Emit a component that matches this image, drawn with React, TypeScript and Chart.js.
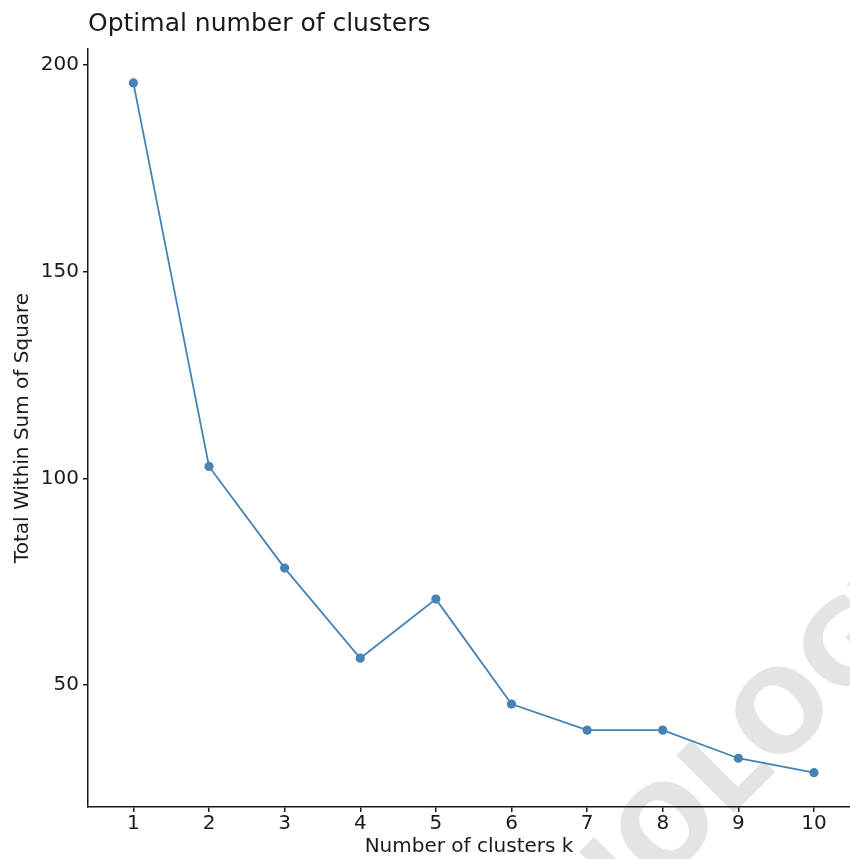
import React, { useEffect, useRef } from "react";
import { Chart, registerables } from "chart.js";

Chart.register(...registerables);

const kValues = [1, 2, 3, 4, 5, 6, 7, 8, 9, 10];
const wssValues = [195.7, 102.9, 78.3, 56.5, 70.8, 45.4, 39.1, 39.1, 32.3, 28.8];
const xTickValues = [1, 2, 3, 4, 5, 6, 7, 8, 9, 10];
const yTickValues = [50, 100, 150, 200];

const titleText = "Optimal number of clusters";
const xTitle = "Number of clusters k";
const yTitle = "Total Within Sum of Square";
const watermarkText = "BIOLOGY";

const FONT = "'DejaVu Sans', sans-serif";
const INK = "#1a1a1a";
const LINE = "#4682B4";

const watermarkPlugin = {
  id: "watermark",
  beforeDraw(chart: any) {
    const ctx = chart.ctx as CanvasRenderingContext2D;
    ctx.save();
    const size = 112;
    ctx.font = `bold ${size}px ${FONT}`;
    ctx.fillStyle = "#e4e4e4";
    ctx.textBaseline = "middle";
    ctx.textAlign = "left";
    const prefix = ctx.measureText("BI").width;
    const o = ctx.measureText("O").width;
    ctx.translate(671, 832);
    ctx.rotate(-Math.PI / 4);
    ctx.fillText(watermarkText, -(prefix + o / 2), 2);
    ctx.restore();
  },
};

export default function App() {
  const canvasRef = useRef<HTMLCanvasElement | null>(null);

  useEffect(() => {
    document.body.style.margin = "0";
    const canvas = canvasRef.current;
    if (!canvas) return;
    const chart = new Chart(canvas, {
      type: "line",
      data: {
        datasets: [
          {
            data: kValues.map((k, i) => ({ x: k, y: wssValues[i] })),
            borderColor: LINE,
            backgroundColor: LINE,
            borderWidth: 1.8,
            pointRadius: 4.6,
            pointBorderWidth: 0,
            pointBackgroundColor: LINE,
            tension: 0,
            fill: false,
            clip: false,
          },
        ],
      },
      plugins: [watermarkPlugin],
      options: {
        animation: false,
        responsive: false,
        devicePixelRatio: 1,
        layout: { padding: 0, autoPadding: false },
        plugins: {
          legend: { display: false },
          tooltip: { enabled: false },
          title: {
            display: true,
            text: titleText,
            align: "start",
            fullSize: false,
            color: INK,
            font: { family: FONT, size: 25, weight: "normal", lineHeight: 1.2 },
            padding: { top: 9.6, bottom: 9.4 },
          },
        },
        scales: {
          x: {
            type: "linear",
            min: 0.4,
            max: 10.476,
            afterBuildTicks: (axis: any) => {
              axis.ticks = xTickValues.map((v) => ({ value: v }));
            },
            afterFit: (scale: any) => {
              scale.height = 52;
              scale.paddingLeft = 0;
              scale.paddingRight = 0;
            },
            ticks: {
              color: INK,
              font: { family: FONT, size: 20, lineHeight: 1 },
              padding: 2,
              maxRotation: 0,
              autoSkip: false,
              callback: (v: any) => String(v),
            },
            grid: {
              drawOnChartArea: false,
              drawTicks: true,
              tickLength: 5,
              color: INK,
              lineWidth: 1.5,
            },
            border: { display: true, color: INK, width: 1.5 },
            title: {
              display: true,
              text: xTitle,
              color: INK,
              font: { family: FONT, size: 20, lineHeight: 1.2 },
              padding: { top: 0, bottom: 0.5 },
            },
          },
          y: {
            type: "linear",
            min: 20.5,
            max: 203.9,
            afterBuildTicks: (axis: any) => {
              axis.ticks = yTickValues.map((v) => ({ value: v }));
            },
            afterFit: (scale: any) => {
              scale.width = 88;
              scale.paddingTop = 0;
              scale.paddingBottom = 0;
            },
            ticks: {
              color: INK,
              font: { family: FONT, size: 20, lineHeight: 1 },
              padding: 4,
              autoSkip: false,
              callback: (v: any) => String(v),
            },
            grid: {
              drawOnChartArea: false,
              drawTicks: true,
              tickLength: 5,
              color: INK,
              lineWidth: 1.5,
            },
            border: { display: true, color: INK, width: 1.5 },
            title: {
              display: true,
              text: yTitle,
              color: INK,
              font: { family: FONT, size: 20, lineHeight: 1.2 },
              padding: { top: 10.5, bottom: 0 },
            },
          },
        },
      },
    } as any);
    return () => chart.destroy();
  }, []);

  return (
    <div style={{ width: 850, height: 859, overflow: "hidden", background: "#fff" }}>
      <canvas ref={canvasRef} width={850} height={859} style={{ display: "block" }} />
    </div>
  );
}
